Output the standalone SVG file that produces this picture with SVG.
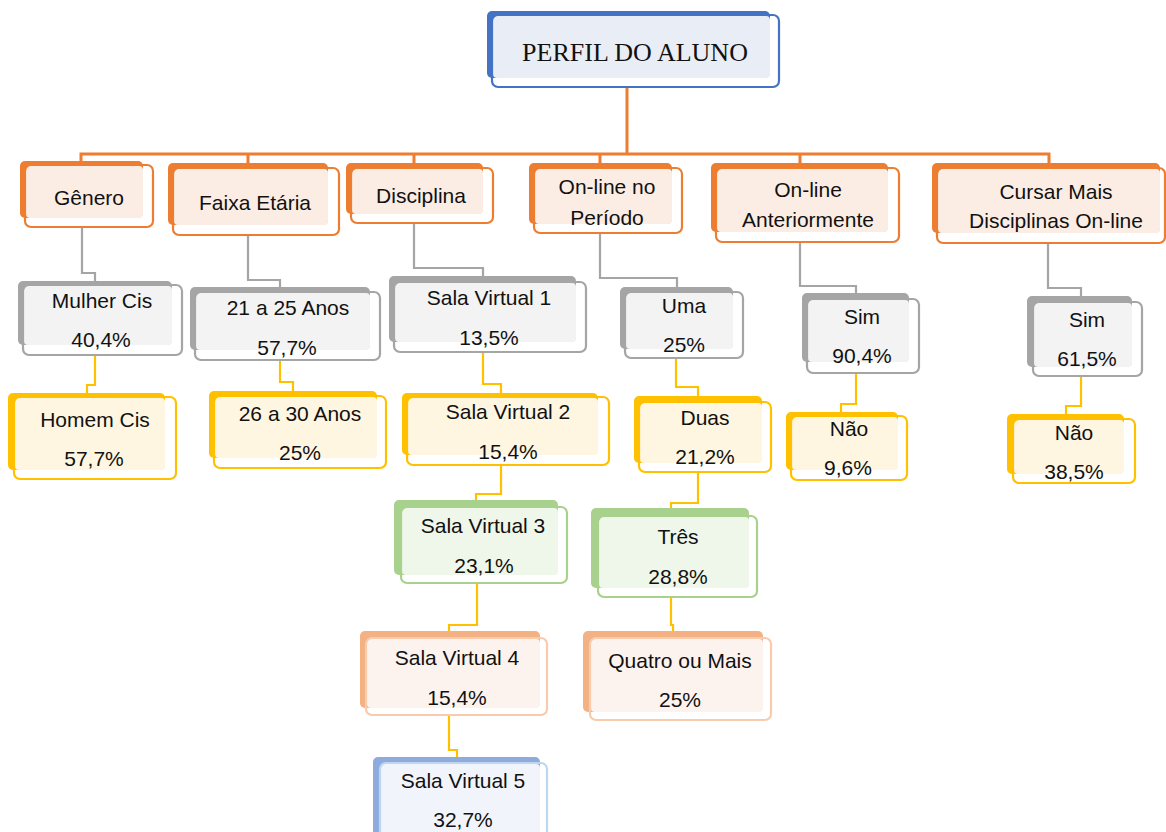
<svg xmlns="http://www.w3.org/2000/svg" width="1166" height="832" viewBox="0 0 1166 832">
<style>
text{font-family:"Liberation Sans",Arial,sans-serif;font-size:21px;fill:#111;text-anchor:middle}
text.t{font-family:"Liberation Serif","Times New Roman",serif;font-size:26px}
.s{fill:none;stroke-width:2.2}
.or .b{fill:#ed7d31}.or .f{fill:#fcede4}.or .s{stroke:#ed7d31}
.bu .b{fill:#4472c4}.bu .f{fill:#e9edf6}.bu .s{stroke:#4472c4}
.gr .b{fill:#a5a5a5}.gr .f{fill:#f3f3f3}.gr .s{stroke:#a5a5a5}
.ye .b{fill:#ffc000}.ye .f{fill:#fff6e2}.ye .s{stroke:#ffc000}
.gn .b{fill:#a9d18e}.gn .f{fill:#eff6ea}.gn .s{stroke:#a9d18e}
.sa .b{fill:#f4b183}.sa .f{fill:#fdf3ee}.sa .s{stroke:#f8cbad}
.lb .b{fill:#8faadc}.lb .f{fill:#f1f4fa}.lb .s{stroke:#bdd7ee}
#connectors path{fill:none}
.co{stroke:#ed7d31;stroke-width:3}
.cg{stroke:#a5a5a5;stroke-width:2.2}
.cy{stroke:#ffc000;stroke-width:2.2}
</style>
<rect width="1166" height="832" fill="#fff"/>
<g id="connectors">
<path class="co" d="M627 88V154M627 154H81V162M627 154H248V163M627 154H414V163M627 154H600V163M627 154H800V163M627 154H1049V163"/>
<path class="cg" d="M82 227V273H95V281"/>
<path class="cg" d="M248 235V280H280V287"/>
<path class="cg" d="M414 223V268H483V276"/>
<path class="cg" d="M600 233V278H677V287"/>
<path class="cg" d="M800 242V286H856V293"/>
<path class="cg" d="M1048 243V288H1081V296"/>
<path class="cy" d="M95 355V385H87V393"/>
<path class="cy" d="M280 360V382H293V391"/>
<path class="cy" d="M483 352V384H501V393"/>
<path class="cy" d="M676 358V387H698V396"/>
<path class="cy" d="M856 373V404H841V412"/>
<path class="cy" d="M1081 376V406H1066V414"/>
<path class="cy" d="M501 465V494H476V500"/>
<path class="cy" d="M477 583V625H449V631"/>
<path class="cy" d="M449 715V750H457V757"/>
<path class="cy" d="M698 472V503H671V508"/>
<path class="cy" d="M671 597V625H673V631"/>
</g>
<g id="n-title" class="bu">
<rect class="b" x="487" y="11" width="283" height="67" rx="5"/>
<rect class="f" x="493" y="16" width="277" height="62" rx="4"/>
<rect class="s" x="492" y="15" width="287" height="72" rx="6"/>
<text class="t" x="635" y="61">PERFIL DO ALUNO</text>
</g>
<g id="n-genero" class="or">
<rect class="b" x="20" y="161" width="123" height="57" rx="5"/>
<rect class="f" x="26" y="166" width="117" height="52" rx="4"/>
<rect class="s" x="25" y="165" width="128" height="62" rx="6"/>
<text x="89" y="205">Gênero</text>
</g>
<g id="n-faixa" class="or">
<rect class="b" x="168" y="163" width="160" height="62" rx="5"/>
<rect class="f" x="174" y="169" width="154" height="56" rx="4"/>
<rect class="s" x="173" y="168" width="166" height="67" rx="6"/>
<text x="255" y="210">Faixa Etária</text>
</g>
<g id="n-disciplina" class="or">
<rect class="b" x="346" y="163" width="137" height="51" rx="5"/>
<rect class="f" x="352" y="169" width="131" height="45" rx="4"/>
<rect class="s" x="351" y="168" width="142" height="55" rx="6"/>
<text x="421" y="203">Disciplina</text>
</g>
<g id="n-periodo" class="or">
<rect class="b" x="529" y="163" width="143" height="61" rx="5"/>
<rect class="f" x="535" y="169" width="137" height="55" rx="4"/>
<rect class="s" x="534" y="168" width="148" height="65" rx="6"/>
<text x="607" y="194">On-line no</text>
<text x="607" y="225">Período</text>
</g>
<g id="n-anterior" class="or">
<rect class="b" x="711" y="163" width="177" height="69" rx="5"/>
<rect class="f" x="717" y="169" width="171" height="63" rx="4"/>
<rect class="s" x="716" y="168" width="183" height="74" rx="6"/>
<text x="808" y="197">On-line</text>
<text x="808" y="227">Anteriormente</text>
</g>
<g id="n-cursar" class="or">
<rect class="b" x="932" y="163" width="228" height="70" rx="5"/>
<rect class="f" x="938" y="169" width="222" height="64" rx="4"/>
<rect class="s" x="937" y="168" width="228" height="75" rx="6"/>
<text x="1056" y="199">Cursar Mais</text>
<text x="1056" y="228">Disciplinas On-line</text>
</g>
<g id="n-mulher" class="gr">
<rect class="b" x="18" y="281" width="154" height="64" rx="5"/>
<rect class="f" x="24" y="286" width="148" height="59" rx="4"/>
<rect class="s" x="23" y="285" width="159" height="70" rx="6"/>
<text x="102" y="308">Mulher Cis</text>
<text x="101" y="347">40,4%</text>
</g>
<g id="n-homem" class="ye">
<rect class="b" x="8" y="393" width="157" height="77" rx="5"/>
<rect class="f" x="15" y="398" width="150" height="72" rx="4"/>
<rect class="s" x="14" y="397" width="162" height="82" rx="6"/>
<text x="95" y="427">Homem Cis</text>
<text x="94" y="466">57,7%</text>
</g>
<g id="n-21a25" class="gr">
<rect class="b" x="190" y="287" width="180" height="63" rx="5"/>
<rect class="f" x="196" y="293" width="174" height="57" rx="4"/>
<rect class="s" x="195" y="292" width="185" height="68" rx="6"/>
<text x="288" y="315">21 a 25 Anos</text>
<text x="287" y="355">57,7%</text>
</g>
<g id="n-26a30" class="ye">
<rect class="b" x="209" y="391" width="168" height="67" rx="5"/>
<rect class="f" x="215" y="397" width="162" height="61" rx="4"/>
<rect class="s" x="214" y="396" width="172" height="72" rx="6"/>
<text x="300" y="421">26 a 30 Anos</text>
<text x="300" y="460">25%</text>
</g>
<g id="n-sv1" class="gr">
<rect class="b" x="389" y="276" width="187" height="66" rx="5"/>
<rect class="f" x="395" y="283" width="181" height="59" rx="4"/>
<rect class="s" x="394" y="282" width="192" height="70" rx="6"/>
<text x="489" y="305">Sala Virtual 1</text>
<text x="489" y="345">13,5%</text>
</g>
<g id="n-sv2" class="ye">
<rect class="b" x="402" y="393" width="196" height="62" rx="5"/>
<rect class="f" x="408" y="398" width="190" height="57" rx="4"/>
<rect class="s" x="407" y="397" width="202" height="68" rx="6"/>
<text x="508" y="419">Sala Virtual 2</text>
<text x="508" y="459">15,4%</text>
</g>
<g id="n-sv3" class="gn">
<rect class="b" x="394" y="500" width="164" height="75" rx="5"/>
<rect class="f" x="402" y="508" width="156" height="67" rx="4"/>
<rect class="s" x="401" y="507" width="166" height="76" rx="6"/>
<text x="483" y="533">Sala Virtual 3</text>
<text x="484" y="573">23,1%</text>
</g>
<g id="n-sv4" class="sa">
<rect class="b" x="360" y="631" width="180" height="77" rx="5"/>
<rect class="f" x="367" y="639" width="173" height="69" rx="4"/>
<rect class="s" x="366" y="638" width="181" height="77" rx="6"/>
<text x="457" y="665">Sala Virtual 4</text>
<text x="457" y="705">15,4%</text>
</g>
<g id="n-sv5" class="lb">
<rect class="b" x="373" y="757" width="167" height="90" rx="5"/>
<rect class="f" x="381" y="764" width="159" height="83" rx="4"/>
<rect class="s" x="380" y="763" width="167" height="90" rx="6"/>
<text x="463" y="788">Sala Virtual 5</text>
<text x="463" y="827">32,7%</text>
</g>
<g id="n-uma" class="gr">
<rect class="b" x="620" y="287" width="113" height="62" rx="5"/>
<rect class="f" x="626" y="293" width="107" height="56" rx="4"/>
<rect class="s" x="625" y="292" width="118" height="66" rx="6"/>
<text x="684" y="313">Uma</text>
<text x="684" y="352">25%</text>
</g>
<g id="n-duas" class="ye">
<rect class="b" x="634" y="396" width="128" height="67" rx="5"/>
<rect class="f" x="640" y="403" width="122" height="60" rx="4"/>
<rect class="s" x="639" y="402" width="132" height="70" rx="6"/>
<text x="705" y="425">Duas</text>
<text x="705" y="464">21,2%</text>
</g>
<g id="n-tres" class="gn">
<rect class="b" x="591" y="508" width="158" height="80" rx="5"/>
<rect class="f" x="599" y="517" width="150" height="71" rx="4"/>
<rect class="s" x="598" y="516" width="159" height="81" rx="6"/>
<text x="678" y="544">Três</text>
<text x="678" y="584">28,8%</text>
</g>
<g id="n-quatro" class="sa">
<rect class="b" x="583" y="631" width="180" height="81" rx="5"/>
<rect class="f" x="591" y="639" width="172" height="73" rx="4"/>
<rect class="s" x="590" y="638" width="181" height="82" rx="6"/>
<text x="680" y="668">Quatro ou Mais</text>
<text x="680" y="707">25%</text>
</g>
<g id="n-sim1" class="gr">
<rect class="b" x="802" y="293" width="107" height="69" rx="5"/>
<rect class="f" x="808" y="300" width="101" height="62" rx="4"/>
<rect class="s" x="807" y="299" width="112" height="74" rx="6"/>
<text x="862" y="324">Sim</text>
<text x="862" y="363">90,4%</text>
</g>
<g id="n-nao1" class="ye">
<rect class="b" x="786" y="412" width="112" height="58" rx="5"/>
<rect class="f" x="792" y="417" width="106" height="53" rx="4"/>
<rect class="s" x="791" y="416" width="116" height="64" rx="6"/>
<text x="849" y="436">Não</text>
<text x="848" y="475">9,6%</text>
</g>
<g id="n-sim2" class="gr">
<rect class="b" x="1027" y="296" width="105" height="71" rx="5"/>
<rect class="f" x="1034" y="303" width="98" height="64" rx="4"/>
<rect class="s" x="1033" y="302" width="109" height="74" rx="6"/>
<text x="1087" y="327">Sim</text>
<text x="1087" y="366">61,5%</text>
</g>
<g id="n-nao2" class="ye">
<rect class="b" x="1007" y="414" width="117" height="60" rx="5"/>
<rect class="f" x="1014" y="420" width="110" height="54" rx="4"/>
<rect class="s" x="1013" y="419" width="122" height="64" rx="6"/>
<text x="1074" y="440">Não</text>
<text x="1074" y="479">38,5%</text>
</g>
</svg>
